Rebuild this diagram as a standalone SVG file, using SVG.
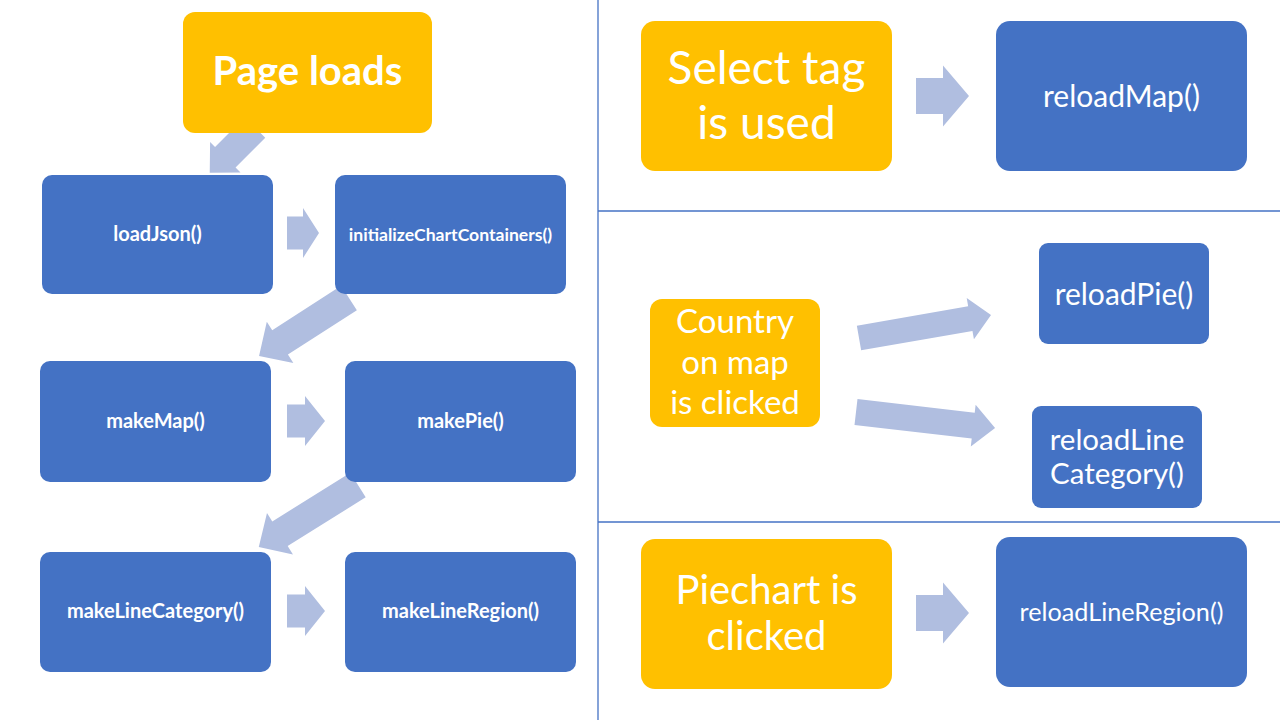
<svg xmlns="http://www.w3.org/2000/svg" width="1280" height="720" viewBox="0 0 1280 720">
<style>
.y{fill:#FFC000}
.b{fill:#4472C4}
.t{font-family:Lato,"Open Sans","Liberation Sans",sans-serif;fill:#fff;text-anchor:middle}
.bold{font-weight:bold;font-size:20px}
.arr{fill:#B0BEE0}
.div{stroke:#4472C4;stroke-width:1.3;fill:none}
</style>
<rect width="1280" height="720" fill="#fff"/>
<g id="dividers">
<line class="div" x1="598" y1="0" x2="598" y2="720"/>
<line class="div" x1="598" y1="211" x2="1280" y2="211"/>
<line class="div" x1="598" y1="522" x2="1280" y2="522"/>
</g>
<g id="connectors">
<path class="arr" transform="translate(255,127.5) rotate(135)" d="M0,-14.5 L42,-14.5 L42,-21.5 L64,0 L42,21.5 L42,14.5 L0,14.5 Z"/>
<path class="arr" transform="translate(287,233)" d="M0,-16.5 L16,-16.5 L16,-25 L32,0 L16,25 L16,16.5 L0,16.5 Z"/>
<path class="arr" transform="translate(349,298) rotate(147.2)" d="M0,-14.5 L82,-14.5 L82,-24.5 L107,0 L82,24.5 L82,14.5 L0,14.5 Z"/>
<path class="arr" transform="translate(287,421)" d="M0,-16.5 L18,-16.5 L18,-25 L38,0 L18,25 L18,16.5 L0,16.5 Z"/>
<path class="arr" transform="translate(358,485) rotate(148)" d="M0,-14.5 L92,-14.5 L92,-24.5 L117,0 L92,24.5 L92,14.5 L0,14.5 Z"/>
<path class="arr" transform="translate(287,611)" d="M0,-16.5 L18,-16.5 L18,-25 L38,0 L18,25 L18,16.5 L0,16.5 Z"/>
<path class="arr" transform="translate(916,96)" d="M0,-18 L27,-18 L27,-30.5 L53,0 L27,30.5 L27,18 L0,18 Z"/>
<path class="arr" transform="translate(859,338) rotate(-9.9)" d="M0,-12.5 L113,-12.5 L113,-21 L134,0 L113,21 L113,12.5 L0,12.5 Z"/>
<path class="arr" transform="translate(856,412) rotate(6.6)" d="M0,-13 L118,-13 L118,-21 L140,0 L118,21 L118,13 L0,13 Z"/>
<path class="arr" transform="translate(916,613)" d="M0,-18 L27,-18 L27,-30.5 L53,0 L27,30.5 L27,18 L0,18 Z"/>
</g>
<g id="pageLoads"><rect class="y" x="183" y="12" width="249" height="121" rx="12"/><text class="t" x="307.5" y="85" font-size="40" font-weight="bold">Page loads</text></g>
<g id="loadJson"><rect class="b" x="42" y="175" width="231" height="119" rx="10"/><text class="t bold" x="157.5" y="241">loadJson()</text></g>
<g id="initializeChartContainers"><rect class="b" x="335" y="175" width="231" height="119" rx="10"/><text class="t bold" x="450.5" y="241" style="font-size:17.6px">initializeChartContainers()</text></g>
<g id="makeMap"><rect class="b" x="40" y="361" width="231" height="121" rx="10"/><text class="t bold" x="155.5" y="428">makeMap()</text></g>
<g id="makePie"><rect class="b" x="345" y="361" width="231" height="121" rx="10"/><text class="t bold" x="460.5" y="428">makePie()</text></g>
<g id="makeLineCategory"><rect class="b" x="40" y="552" width="231" height="120" rx="10"/><text class="t bold" x="155.5" y="618">makeLineCategory()</text></g>
<g id="makeLineRegion"><rect class="b" x="345" y="552" width="231" height="120" rx="10"/><text class="t bold" x="460.5" y="618">makeLineRegion()</text></g>
<g id="selectTag"><rect class="y" x="641" y="21" width="251" height="150" rx="14"/><text class="t" x="766.5" y="84" font-size="46">Select tag</text><text class="t" x="766.5" y="139" font-size="46">is used</text></g>
<g id="reloadMap"><rect class="b" x="996" y="21" width="251" height="150" rx="14"/><text class="t" x="1121.5" y="107" font-size="30">reloadMap()</text></g>
<g id="countryClicked"><rect class="y" x="650" y="299" width="170" height="128" rx="12"/><text class="t" x="735" y="333" font-size="33">Country</text><text class="t" x="735" y="374" font-size="33">on map</text><text class="t" x="735" y="414" font-size="33">is clicked</text></g>
<g id="reloadPie"><rect class="b" x="1039" y="243" width="170" height="101" rx="9"/><text class="t" x="1124" y="305" font-size="30">reloadPie()</text></g>
<g id="reloadLineCategory"><rect class="b" x="1032" y="406" width="170" height="102" rx="9"/><text class="t" x="1117" y="450" font-size="29.5">reloadLine</text><text class="t" x="1117" y="484" font-size="29.5">Category()</text></g>
<g id="piechartClicked"><rect class="y" x="641" y="539" width="251" height="150" rx="14"/><text class="t" x="766.5" y="604" font-size="40">Piechart is</text><text class="t" x="766.5" y="650" font-size="40">clicked</text></g>
<g id="reloadLineRegion"><rect class="b" x="996" y="537" width="251" height="150" rx="14"/><text class="t" x="1121.5" y="621" font-size="25.2">reloadLineRegion()</text></g>
</svg>
